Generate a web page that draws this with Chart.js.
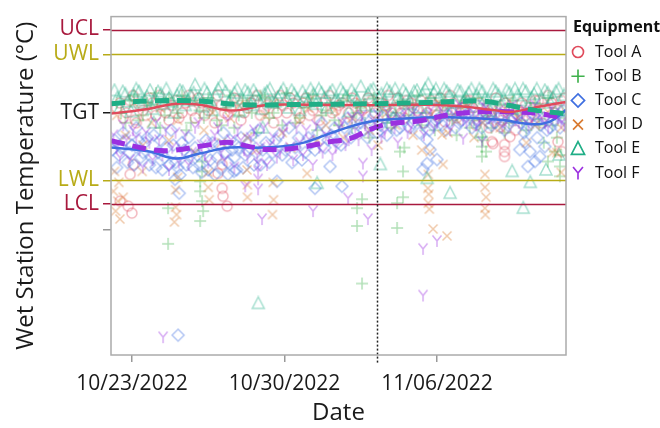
<!DOCTYPE html>
<html>
<head>
<meta charset="utf-8">
<script src="https://cdn.jsdelivr.net/npm/chart.js@4.4.1/dist/chart.umd.min.js"></script>
<style>
  html, body { margin: 0; padding: 0; background: #fff; }
</style>
</head>
<body>
<canvas id="tempChart" width="660" height="428"></canvas>
<script>
// x = days since 10/22/2022 00:00, y = wet station temperature (°C)
const toolNames = ['Tool A', 'Tool B', 'Tool C', 'Tool D', 'Tool E', 'Tool F'];
const toolColors = ['#e04b5c', '#3fb14c', '#3f6fe0', '#d97a30', '#1fae86', '#9b30e0'];
const toolShapes = ['circle', 'plus', 'diamond', 'x', 'triangle', 'y'];

const toolA = [
  [0.3,25.2],[0.6,24.8],[0.9,25.5],[1.2,24.6],[1.5,25.1],[1.8,25.6],[2.1,24.9],[2.4,25.3],[2.7,24.7],[3.0,25.5],
  [3.3,25.0],[3.6,25.7],[3.9,24.8],[4.2,25.4],[4.5,25.1],[4.8,24.6],[5.1,25.3],[5.4,24.9],[5.7,25.6],[6.0,24.7],
  [6.3,25.2],[6.6,25.5],[6.9,24.9],[7.2,25.3],[7.5,24.6],[7.8,25.7],[8.1,25.0],[8.4,25.4],[8.7,24.8],[9.0,25.6],
  [9.3,25.1],[9.6,24.7],[9.9,25.5],[10.2,25.0],[10.5,25.3],[10.8,24.6],[11.1,25.6],[11.4,24.9],[11.7,25.2],[12.0,25.5],
  [12.3,24.7],[12.6,25.3],[12.9,25.0],[13.2,25.6],[13.5,24.8],[13.8,25.4],[14.1,25.1],[14.4,24.6],[14.7,25.5],[15.0,24.9],
  [15.3,25.3],[15.6,25.7],[15.9,24.8],[16.2,25.2],[16.5,25.5],[16.8,24.5],[17.1,24.9],[17.4,24.4],[17.7,25.6],[18.0,24.7],
  [18.3,25.1],[18.6,24.3],[18.9,25.4],[19.2,24.8],[19.5,25.5],[19.8,24.6],[20.1,25.7],[20.4,25.0],[20.7,25.5],
  [0.45,25.4],[0.75,25.0],[1.05,25.7],[1.35,25.3],[1.65,24.9],[1.95,25.4],[2.25,25.7],[2.55,25.0],[2.85,25.3],[3.15,24.8],
  [3.45,25.4],[3.75,25.1],[4.05,25.6],[4.35,24.9],[4.65,25.3],[4.95,25.7],[5.25,25.0],[5.55,25.2],[5.85,25.5],[6.15,25.0],
  [6.45,25.4],[6.75,25.7],[7.05,25.1],[7.35,25.5],[7.65,25.0],[7.95,25.3],[8.25,25.6],[8.55,25.1],[8.85,25.4],[9.15,24.9],
  [9.45,25.5],[9.75,25.2],[10.05,25.7],[10.35,25.1],[10.65,25.4],[10.95,25.0],[11.25,25.4],[11.55,25.1],[11.85,25.6],[12.15,25.0],
  [12.45,25.4],[12.75,25.7],[13.05,25.2],[13.35,25.0],[13.65,25.5],[13.95,25.2],[14.25,25.5],[14.55,25.0],[14.85,25.3],[15.15,25.6],
  [15.45,25.1],[15.75,25.4],[16.05,25.0],[16.35,25.5],[16.65,25.2],[16.95,25.4],[17.25,25.0],[17.55,25.3],[17.85,24.9],[18.15,25.4],
  [18.45,24.8],[18.75,25.1],[19.05,25.3],[19.35,24.9],[19.65,25.5],[19.95,25.2],[20.25,25.4],[20.55,25.1],[20.85,25.6],
  [0.92,22.52],[1.0,20.96],[0.83,21.24],[0.46,21.44],[1.06,22.92],[1.15,24.72],[5.14,21.96],[5.18,21.64],[5.37,21.24],
  [5.14,22.92],[4.95,22.56],[17.52,23.84],[18.1,23.72],[18.1,23.44],[18.1,23.24],[18.35,24.04],[17.57,23.76],
  [20.55,23.84],[20.73,23.44],[17.9,24.44],[15.37,24.64]
];
const toolB = [
  [0.3,25.4],[0.7,24.6],[1.1,25.7],[1.5,24.9],[1.9,25.3],[2.3,24.4],[2.7,25.6],[3.1,25.0],[3.5,24.3],[3.9,25.5],
  [4.3,24.8],[4.7,25.2],[5.1,24.5],[5.5,25.7],[5.9,24.9],[6.3,25.4],[6.7,24.2],[7.1,25.6],[7.5,25.0],[7.9,24.5],
  [8.3,25.3],[8.7,24.8],[9.1,25.6],[9.5,24.3],[9.9,25.1],[10.3,24.7],[10.7,25.5],[11.1,24.4],[11.5,25.2],[11.9,24.0],
  [12.3,25.4],[12.7,24.6],[13.1,25.0],[13.5,23.6],[13.9,25.3],[14.3,24.5],[14.7,25.6],[15.1,24.8],[15.5,25.2],[15.9,24.1],
  [16.3,25.5],[16.7,24.7],[17.1,23.9],[17.5,24.4],[17.9,25.3],[18.3,24.6],[18.7,25.0],[19.1,24.3],[19.5,25.4],[19.9,23.8],
  [20.3,24.5],[20.7,23.3],
  [0.5,25.0],[0.9,25.5],[1.3,24.7],[1.7,25.4],[2.1,25.8],[2.5,24.9],[2.9,25.3],[3.3,25.7],[3.7,24.6],[4.1,25.1],
  [4.5,25.6],[4.9,24.7],[5.3,25.2],[5.7,24.4],[6.1,25.5],[6.5,25.0],[6.9,25.7],[7.3,24.8],[7.7,25.3],[8.1,25.8],
  [8.5,24.6],[8.9,25.2],[9.3,25.7],[9.7,24.9],[10.1,25.4],[10.5,24.5],[10.9,25.7],[11.3,25.0],[11.7,24.6],[12.1,25.6],
  [12.5,25.1],[12.9,24.4],[13.3,25.5],[13.7,24.9],[14.1,25.7],[14.5,25.0],[14.9,24.3],[15.3,25.5],[15.7,24.7],[16.1,25.2],
  [16.5,24.4],[16.9,25.6],[17.3,24.9],[17.7,25.1],[18.1,24.2],[18.5,25.5],[18.9,24.7],[19.3,25.2],[19.7,24.5],[20.1,25.6],
  [20.5,24.0],[20.85,24.8],
  [2.66,19.72],[2.66,21.16],[4.22,22.64],[4.13,22.24],[4.13,21.84],[4.22,23.04],[4.22,21.44],[4.27,21.04],[4.13,20.64],
  [11.56,18.12],[13.17,20.36],[11.33,20.44],[11.33,21.16],[11.56,21.52],[13.44,21.6],[13.17,21.36],
  [17.06,24.04],[17.06,23.64],[17.25,23.44],[17.06,23.24],[20.41,23.44],[20.64,22.84],[20.64,22.44],[20.09,23.04],
  [13.3,23.44],[13.44,22.64]
];
const toolC = [
  [0.2,23.9],[0.4,23.3],[0.6,24.2],[0.8,23.0],[1.0,23.7],[1.2,24.4],[1.4,23.2],[1.6,23.8],[1.8,22.9],[2.0,24.1],
  [2.2,23.4],[2.4,22.7],[2.6,23.6],[2.8,24.3],[3.0,23.0],[3.2,22.5],[3.4,23.5],[3.6,24.0],[3.8,22.8],[4.0,23.3],
  [4.2,22.6],[4.4,23.9],[4.6,23.1],[4.8,22.5],[5.0,23.7],[5.2,24.2],[5.4,23.0],[5.6,23.5],[5.8,22.7],[6.0,24.0],
  [6.2,23.3],[6.4,23.8],[6.6,22.9],[6.8,24.3],[7.0,23.5],[7.3,23.0],[7.6,23.9],[7.9,23.3],[8.2,24.4],[8.5,23.6],
  [8.8,23.1],[9.1,24.0],[9.4,23.5],[9.7,24.6],[10.0,23.9],[10.3,24.4],[10.6,23.7],[10.9,24.8],[11.2,24.2],[11.5,24.6],
  [11.8,24.0],[12.1,24.9],[12.4,24.5],[12.7,24.1],[13.0,24.8],[13.3,24.4],[13.6,25.0],[13.9,24.6],[14.2,24.2],[14.5,24.9],
  [14.8,24.5],[15.1,24.8],[15.4,24.3],[15.7,25.0],[16.0,24.6],[16.3,24.9],[16.6,24.4],[16.9,24.7],[17.2,25.0],[17.5,24.5],
  [17.8,24.8],[18.1,24.3],[18.4,24.7],[18.7,24.9],[19.0,24.2],[19.3,24.6],[19.6,24.0],[19.9,24.8],[20.2,24.4],[20.5,24.9],
  [20.8,25.1],
  [0.1,23.5],[0.3,22.8],[0.5,23.6],[0.7,23.9],[0.9,23.4],[1.1,22.9],[1.3,23.9],[1.5,23.4],[1.7,24.0],[1.9,23.2],
  [2.1,22.8],[2.3,23.9],[2.5,23.2],[2.7,22.9],[2.9,23.7],[3.1,22.8],[3.3,23.8],[3.5,22.9],[3.7,23.3],[3.9,23.6],
  [4.1,22.9],[4.3,23.5],[4.5,22.7],[4.7,23.8],[4.9,23.2],[5.1,22.8],[5.3,23.4],[5.5,23.9],[5.7,23.2],[5.9,23.6],
  [6.1,22.8],[6.3,23.5],[6.5,24.1],[6.7,23.4],[6.9,22.9],[7.15,23.8],[7.45,23.4],[7.75,24.1],[8.05,23.5],[8.35,23.0],
  [8.65,24.0],[8.95,23.4],[9.25,23.8],[9.55,24.2],[9.85,23.6],[10.15,24.1],[10.45,23.8],[10.75,24.4],[11.05,24.0],[11.35,24.8],
  [11.65,24.3],[11.95,24.7],[12.25,24.2],[12.55,24.8],[12.85,24.5],[13.15,24.3],[13.45,24.7],[13.75,24.4],[14.05,24.9],[14.35,24.6],
  [14.65,24.3],[14.95,24.7],[15.25,24.5],[15.55,24.9],[15.85,24.4],[16.15,24.7],[16.45,25.0],[16.75,24.6],[17.05,24.4],[17.35,24.8],
  [17.65,24.6],[17.95,24.9],[18.25,24.5],[18.55,24.8],[18.85,24.6],[19.15,24.4],[19.45,24.9],[19.75,24.5],[20.05,24.3],[20.35,24.7],
  [20.65,24.4],[20.85,24.8],
  [19.04,23.84],[19.27,23.44],[19.5,23.04],[19.72,23.24],[19.17,22.84],[19.95,23.64],[18.8,23.52],
  [3.12,16.04],[3.17,21.76],[5.41,22.52],[9.4,21.96],[10.64,22.04],[7.66,22.24],[10.09,22.84],[14.54,22.96],
  [14.54,23.92],[14.68,23.52],[15.0,23.12],[14.36,22.72],[5.69,22.64],[2.98,22.32]
];
const toolD = [
  [0.3,24.9],[0.7,24.1],[1.1,25.4],[1.5,23.7],[1.9,24.6],[2.3,25.2],[2.7,23.9],[3.1,24.7],[3.5,25.5],[3.9,23.4],
  [4.3,24.3],[4.7,25.0],[5.1,23.8],[5.5,24.8],[5.9,25.3],[6.3,24.0],[6.7,23.5],[7.1,24.9],[7.5,25.4],[7.9,24.2],
  [8.3,23.6],[8.7,24.7],[9.1,25.2],[9.5,23.9],[9.9,24.5],[10.3,25.1],[10.7,24.0],[11.1,24.8],[11.5,25.4],[11.9,24.3],
  [12.3,23.7],[12.7,25.0],[13.1,24.5],[13.5,25.3],[13.9,24.1],[14.3,23.5],[14.7,24.9],[15.1,25.4],[15.5,24.2],[15.9,24.7],
  [16.3,25.3],[16.7,24.0],[17.1,24.6],[17.5,25.1],[17.9,24.4],[18.3,25.5],[18.7,24.8],[19.1,23.8],[19.5,24.5],[19.9,25.2],
  [20.3,23.4],[20.7,24.4],
  [0.2,22.64],[0.4,22.2],[0.15,21.84],[0.35,21.44],[0.25,21.04],[0.45,20.72],[0.6,21.6],
  [3.0,21.2],[3.05,20.9],[2.95,20.6],[3.0,21.9],[3.1,22.4],[4.5,22.6],[4.5,22.0],[4.55,21.5],
  [6.28,22.7],[6.3,22.1],[6.3,21.6],[7.48,22.2],[7.5,21.5],[7.45,20.9],[9.04,22.56],[1.47,22.64],
  [14.6,22.52],[14.58,21.96],[14.62,21.72],[14.6,21.36],[14.65,21.12],[14.82,20.32],[15.46,20.04],
  [17.2,22.52],[17.2,22.0],[17.25,21.6],[17.2,21.16],[17.22,20.9],
  [14.68,23.44],[15.23,24.12],[15.28,22.92],[20.5,23.4],[20.7,22.6]
];
const toolE = [
  [0.2,25.9],[0.45,25.2],[0.7,25.75],[0.95,25.05],[1.2,25.95],[1.45,25.4],[1.7,25.65],[1.95,25.15],[2.2,25.85],[2.45,25.35],
  [2.7,25.6],[2.95,25.0],[3.2,25.9],[3.45,25.3],[3.7,25.7],[3.9,26.12],[4.2,25.25],[4.45,25.8],[4.7,25.1],[4.95,25.95],
  [5.1,26.12],[5.45,25.45],[5.7,25.8],[5.95,25.05],[6.2,25.9],[6.45,25.3],[6.7,25.7],[6.95,25.15],[7.2,25.85],[7.45,25.4],
  [7.7,25.6],[7.95,25.95],[8.2,25.2],[8.45,25.75],[8.7,25.1],[8.95,25.65],[9.2,25.95],[9.45,25.35],[9.7,25.8],[9.95,25.2],
  [10.2,25.9],[10.45,25.45],[10.7,25.8],[10.95,25.05],[11.2,25.7],[11.5,26.05],[11.7,25.3],[11.95,25.9],[12.2,25.25],[12.45,25.75],
  [12.7,25.95],[12.95,25.1],[13.2,25.6],[13.45,25.9],[13.7,25.35],[13.95,25.85],[14.2,25.2],[14.6,26.15],[14.75,25.55],[14.95,25.95],
  [15.2,25.3],[15.45,25.85],[15.7,25.15],[15.95,25.9],[16.2,25.45],[16.45,25.8],[16.7,25.25],[16.95,25.95],[17.2,25.55],[17.45,25.05],
  [17.7,25.85],[17.95,25.3],[18.2,25.9],[18.45,25.15],[18.7,25.7],[18.95,25.95],[19.2,25.25],[19.45,25.75],[19.7,24.95],[19.95,25.9],
  [20.2,25.4],[20.45,25.85],[20.7,25.1],
  [0.33,25.6],[0.58,25.85],[0.83,25.45],[1.08,25.7],[1.33,25.85],[1.58,25.5],[1.83,25.9],[2.08,25.55],[2.33,25.75],[2.58,25.95],
  [2.83,25.45],[3.08,25.7],[3.33,25.85],[3.58,25.5],[3.83,25.8],[4.08,25.6],[4.33,25.95],[4.58,25.5],[4.83,25.7],[5.3,25.85],
  [5.58,25.6],[5.83,25.95],[6.08,25.55],[6.33,25.8],[6.58,25.9],[6.83,25.5],[7.08,25.75],[7.33,25.95],[7.58,25.45],[7.83,25.8],
  [8.08,25.6],[8.33,25.9],[8.58,25.55],[8.83,25.85],[9.08,25.45],[9.33,25.75],[9.58,25.95],[9.83,25.6],[10.08,25.8],[10.33,25.5],
  [10.58,25.95],[10.83,25.65],[11.08,25.9],[11.33,25.55],[11.83,25.75],[12.08,25.95],[12.33,25.6],[12.58,25.45],[12.83,25.85],[13.08,25.95],
  [13.33,25.5],[13.58,25.75],[13.83,25.6],[14.08,25.9],[14.33,25.7],[14.45,25.95],[14.85,25.8],[15.08,25.6],[15.33,25.95],[15.58,25.7],
  [15.83,25.5],[16.08,25.85],[16.33,25.6],[16.58,25.95],[16.83,25.7],[17.08,25.85],[17.33,25.5],[17.58,25.95],[17.83,25.7],[18.08,25.55],
  [18.33,25.8],[18.58,25.95],[18.83,25.5],[19.08,25.85],[19.33,25.6],[19.58,25.95],[19.83,25.55],[20.08,25.8],[20.33,25.6],[20.58,25.95],
  [20.83,25.7],
  [2.0,24.6],[7.0,24.4],[13.0,24.8],[17.0,24.2],[20.0,22.7],[20.6,23.3],
  [6.8,17.32],[9.5,22.16],[12.4,22.92],[14.55,22.36],[15.6,21.76],[18.45,22.64],[19.28,22.2],[18.96,21.16]
];
const toolF = [
  [0.3,23.6],[0.6,24.5],[0.9,23.1],[1.2,24.0],[1.5,22.8],[1.8,23.8],[2.1,24.6],[2.4,23.3],[2.7,22.7],[3.0,24.2],
  [3.3,23.5],[3.6,22.9],[3.9,24.4],[4.2,23.7],[4.5,23.0],[4.8,24.1],[5.1,23.4],[5.4,24.7],[5.7,22.8],[6.0,23.9],
  [6.3,23.2],[6.6,24.3],[6.9,23.6],[7.2,22.9],[7.5,24.0],[7.8,23.4],[8.1,24.5],[8.4,23.1],[8.7,23.8],[9.0,24.3],
  [9.3,22.9],[9.6,23.6],[9.9,24.1],[10.2,23.3],[10.5,24.4],[10.8,23.7],[11.1,24.8],[11.4,23.9],[11.7,24.5],[12.0,23.5],
  [12.3,24.9],[12.6,24.2],[12.9,24.7],[13.2,23.8],[13.5,25.0],[13.8,24.4],[14.1,24.8],[14.4,24.1],[14.7,25.1],[15.0,24.6],
  [15.3,25.0],[15.6,24.3],[15.9,25.2],[16.2,24.7],[16.5,25.1],[16.8,24.5],[17.1,25.3],[17.4,24.8],[17.7,25.0],[18.0,24.4],
  [18.3,25.2],[18.6,24.7],[18.9,25.0],[19.2,24.5],[19.5,25.3],[19.8,24.8],[20.1,24.4],[20.4,25.0],[20.7,24.6],
  [0.15,24.1],[0.45,23.2],[0.75,23.9],[1.05,24.3],[1.35,23.5],[1.65,24.2],[1.95,23.1],[2.25,23.9],[2.55,24.3],[2.85,23.6],
  [3.15,23.0],[3.45,24.1],[3.75,23.4],[4.05,24.6],[4.35,23.3],[4.65,23.8],[4.95,24.4],[5.25,23.1],[5.55,23.9],[5.85,24.3],
  [6.15,23.5],[6.45,24.0],[6.75,23.3],[7.05,24.4],[7.35,23.7],[7.65,23.2],[7.95,24.2],[8.25,23.6],[8.55,24.4],[8.85,23.3],
  [9.15,23.9],[9.45,24.5],[9.75,23.4],[10.05,24.0],[10.35,23.6],[10.65,24.6],[10.95,23.9],[11.25,24.3],[11.55,24.9],[11.85,24.2],
  [12.15,24.6],[12.45,24.0],[12.75,25.0],[13.05,24.4],[13.35,24.8],[13.65,24.2],[13.95,25.1],[14.25,24.6],[14.55,24.9],[14.85,24.4],
  [15.15,25.2],[15.45,24.7],[15.75,24.9],[16.05,25.3],[16.35,24.6],[16.65,25.0],[16.95,24.7],[17.25,25.2],[17.55,24.6],[17.85,25.1],
  [18.15,24.8],[18.45,25.3],[18.75,24.6],[19.05,25.1],[19.35,24.7],[19.65,25.0],[19.95,24.6],[20.25,25.2],[20.55,24.8],[20.85,24.5],
  [2.43,15.96],[6.97,20.72],[9.31,21.04],[11.83,20.72],[10.92,21.56],[6.79,21.92],[6.79,22.32],[6.79,22.64],[6.79,22.96],
  [14.36,19.52],[15.0,19.84],[14.36,17.64],[11.6,22.44],[11.6,22.96],[16.2,23.96],[17.06,23.84],[6.2,22.04]
];

// smoothed fits per tool
const fitA = [[0.04,24.97],[1.8,25.17],[3.0,25.37],[4.1,25.33],[5.3,25.11],[6.0,25.12],[7.1,25.31],[9.0,25.33],[12.0,25.31],
  [14.5,25.33],[16.1,25.27],[17.6,25.11],[18.4,25.04],[19.6,25.24],[20.92,25.44]];
const fitC = [[0.04,23.6],[1.8,23.44],[3.0,23.16],[4.1,23.36],[5.5,23.6],[7.0,23.6],[8.7,23.76],[10.5,24.3],[11.9,24.64],
  [13.3,24.76],[15.5,24.82],[17.9,24.72],[19.4,24.54],[20.2,24.66],[20.92,25.12]];
const fitE = [[0.04,25.37],[1.8,25.48],[4.1,25.48],[6.0,25.33],[8.5,25.34],[11.0,25.36],[13.0,25.38],[14.5,25.42],
  [16.0,25.46],[17.0,25.48],[18.2,25.32],[19.4,25.12],[20.92,24.96]];
const fitF = [[0.04,23.88],[1.8,23.53],[2.75,23.48],[4.6,23.72],[5.5,23.81],[6.4,23.64],[7.25,23.52],[8.7,23.6],[10.1,23.84],
  [11.0,23.96],[11.9,24.32],[12.8,24.56],[14.2,24.68],[15.6,24.93],[17.0,25.04],[18.35,25.04],[19.7,24.97],[20.92,24.77]];

const limitValues = [28.36, 27.36, 25.0, 22.28, 21.32, 20.28];
const limitLabels = ['UCL', 'UWL', 'TGT', 'LWL', 'LCL', ''];
const limitColors = ['#a8193d', '#b8ab17', '#1a1a1a', '#b8ab17', '#a8193d', '#999999'];
const dateTicks = [1, 8, 15];
const dateLabels = ['10/23/2022', '10/30/2022', '11/06/2022'];
const markerDay = 12.24;

const FONT = "'Open Sans', 'Noto Sans', sans-serif";

function drawShape(g, shape, x, y, k, color) {
  g.strokeStyle = color;
  g.lineWidth = 1.5 * k;
  g.beginPath();
  switch (shape) {
    case 'circle': g.arc(x, y, 5 * k, 0, Math.PI * 2); break;
    case 'plus': g.moveTo(x - 6 * k, y); g.lineTo(x + 6 * k, y); g.moveTo(x, y - 6 * k); g.lineTo(x, y + 6 * k); break;
    case 'diamond': g.moveTo(x, y - 6 * k); g.lineTo(x + 6 * k, y); g.lineTo(x, y + 6 * k); g.lineTo(x - 6 * k, y); g.closePath(); break;
    case 'x': g.moveTo(x - 4.5 * k, y - 4.5 * k); g.lineTo(x + 4.5 * k, y + 4.5 * k);
      g.moveTo(x + 4.5 * k, y - 4.5 * k); g.lineTo(x - 4.5 * k, y + 4.5 * k); break;
    case 'triangle': g.moveTo(x, y - 6.5 * k); g.lineTo(x + 6 * k, y + 5 * k); g.lineTo(x - 6 * k, y + 5 * k); g.closePath(); break;
    case 'y': g.moveTo(x - 4.5 * k, y - 5.5 * k); g.lineTo(x, y); g.lineTo(x + 4.5 * k, y - 5.5 * k);
      g.moveTo(x, y); g.lineTo(x, y + 6 * k); break;
  }
  g.stroke();
}

function makeMarker(shape, color, alpha) {
  const c = document.createElement('canvas');
  c.width = 16; c.height = 16;
  const g = c.getContext('2d');
  g.globalAlpha = alpha;
  drawShape(g, shape, 8, 8, 1, color);
  return c;
}

const toolData = [toolA, toolB, toolC, toolD, toolE, toolF];
const datasets = toolData.map((pts, i) => ({
  type: 'scatter',
  label: toolNames[i],
  data: pts.map(p => ({ x: p[0], y: p[1] })),
  pointStyle: makeMarker(toolShapes[i], toolColors[i], 0.4),
  pointRadius: 6,
  order: 10 - i
}));

const fits = [
  { data: fitE, color: toolColors[4], dash: [14, 8], width: 5 },
  { data: fitA, color: toolColors[0], dash: [], width: 2.5 },
  { data: fitF, color: toolColors[5], dash: [14, 8], width: 5 },
  { data: fitC, color: toolColors[2], dash: [], width: 2.5 }
];
fits.forEach((f, i) => datasets.push({
  type: 'line',
  label: 'fit' + i,
  data: f.data.map(p => ({ x: p[0], y: p[1] })),
  borderColor: f.color,
  borderWidth: f.width,
  borderDash: f.dash,
  borderCapStyle: 'butt',
  pointRadius: 0,
  tension: 0.4,
  fill: false,
  order: i
}));

const overlayPlugin = {
  id: 'overlay',
  afterDatasetsDraw(chart) {
    const { ctx, chartArea: a, scales: { x, y } } = chart;
    ctx.save();
    // control / warning limits
    limitValues.forEach((v, i) => {
      if (limitLabels[i] === '' || limitLabels[i] === 'TGT') return;
      const py = Math.round(y.getPixelForValue(v)) + 0.5;
      ctx.strokeStyle = limitColors[i];
      ctx.lineWidth = 1.5;
      ctx.beginPath();
      ctx.moveTo(a.left, py);
      ctx.lineTo(a.right, py);
      ctx.stroke();
    });
    // reference date
    const px = Math.round(x.getPixelForValue(markerDay)) + 0.5;
    ctx.strokeStyle = '#222';
    ctx.lineWidth = 1.5;
    ctx.setLineDash([2, 2]);
    ctx.beginPath();
    ctx.moveTo(px, a.top);
    ctx.lineTo(px, a.bottom + 8);
    ctx.stroke();
    ctx.setLineDash([]);
    // frame
    ctx.strokeStyle = '#ababab';
    ctx.lineWidth = 1.5;
    ctx.strokeRect(a.left, a.top, a.right - a.left, a.bottom - a.top);
    ctx.restore();
  },
  afterDraw(chart) {
    const ctx = chart.ctx;
    ctx.save();
    ctx.textBaseline = 'middle';
    ctx.textAlign = 'left';
    ctx.fillStyle = '#111';
    ctx.font = 'bold 16px ' + FONT;
    ctx.fillText('Equipment', 573, 27);
    ctx.font = '16px ' + FONT;
    toolNames.forEach((name, i) => {
      const yy = 52 + i * 24.2;
      drawShape(ctx, toolShapes[i], 578, yy, 1.1, toolColors[i]);
      ctx.fillStyle = '#111';
      ctx.fillText(name, 595, yy);
    });
    ctx.restore();
  }
};

new Chart(document.getElementById('tempChart'), {
  data: { datasets },
  options: {
    responsive: false,
    animation: false,
    events: [],
    layout: { padding: { top: 14, right: 94, bottom: 0, left: 0 } },
    plugins: { legend: { display: false }, tooltip: { enabled: false } },
    scales: {
      x: {
        type: 'linear',
        min: 0.04,
        max: 20.92,
        afterBuildTicks: ax => { ax.ticks = dateTicks.map(v => ({ value: v })); },
        afterFit: ax => { ax.height = 73; },
        ticks: {
          callback: (v, i) => dateLabels[i],
          color: '#1a1a1a',
          font: { family: FONT, size: 21 },
          padding: 9,
          maxRotation: 0,
          autoSkip: false
        },
        grid: { display: true, drawOnChartArea: false, drawTicks: true, tickLength: 7, color: '#999', lineWidth: 1.5 },
        border: { display: false },
        title: { display: true, text: 'Date', color: '#1a1a1a', font: { family: FONT, size: 24 }, padding: { top: 0, bottom: 0 } }
      },
      y: {
        type: 'linear',
        min: 15.24,
        max: 28.88,
        afterBuildTicks: ax => { ax.ticks = limitValues.map(v => ({ value: v })); },
        afterFit: ax => { ax.width = 111; },
        ticks: {
          callback: (v, i) => limitLabels[i],
          color: c => limitColors[c.index],
          font: { family: FONT, size: 21 },
          padding: 4,
          autoSkip: false
        },
        grid: {
          display: true, drawOnChartArea: false, drawTicks: true, tickLength: 8, lineWidth: 1.5,
          tickColor: c => limitColors[c.index]
        },
        border: { display: false },
        title: { display: true, text: 'Wet Station Temperature (°C)', color: '#1a1a1a', font: { family: FONT, size: 24 }, padding: { top: 12, bottom: 0 } }
      }
    }
  },
  plugins: [overlayPlugin]
});
</script>
</body>
</html>
